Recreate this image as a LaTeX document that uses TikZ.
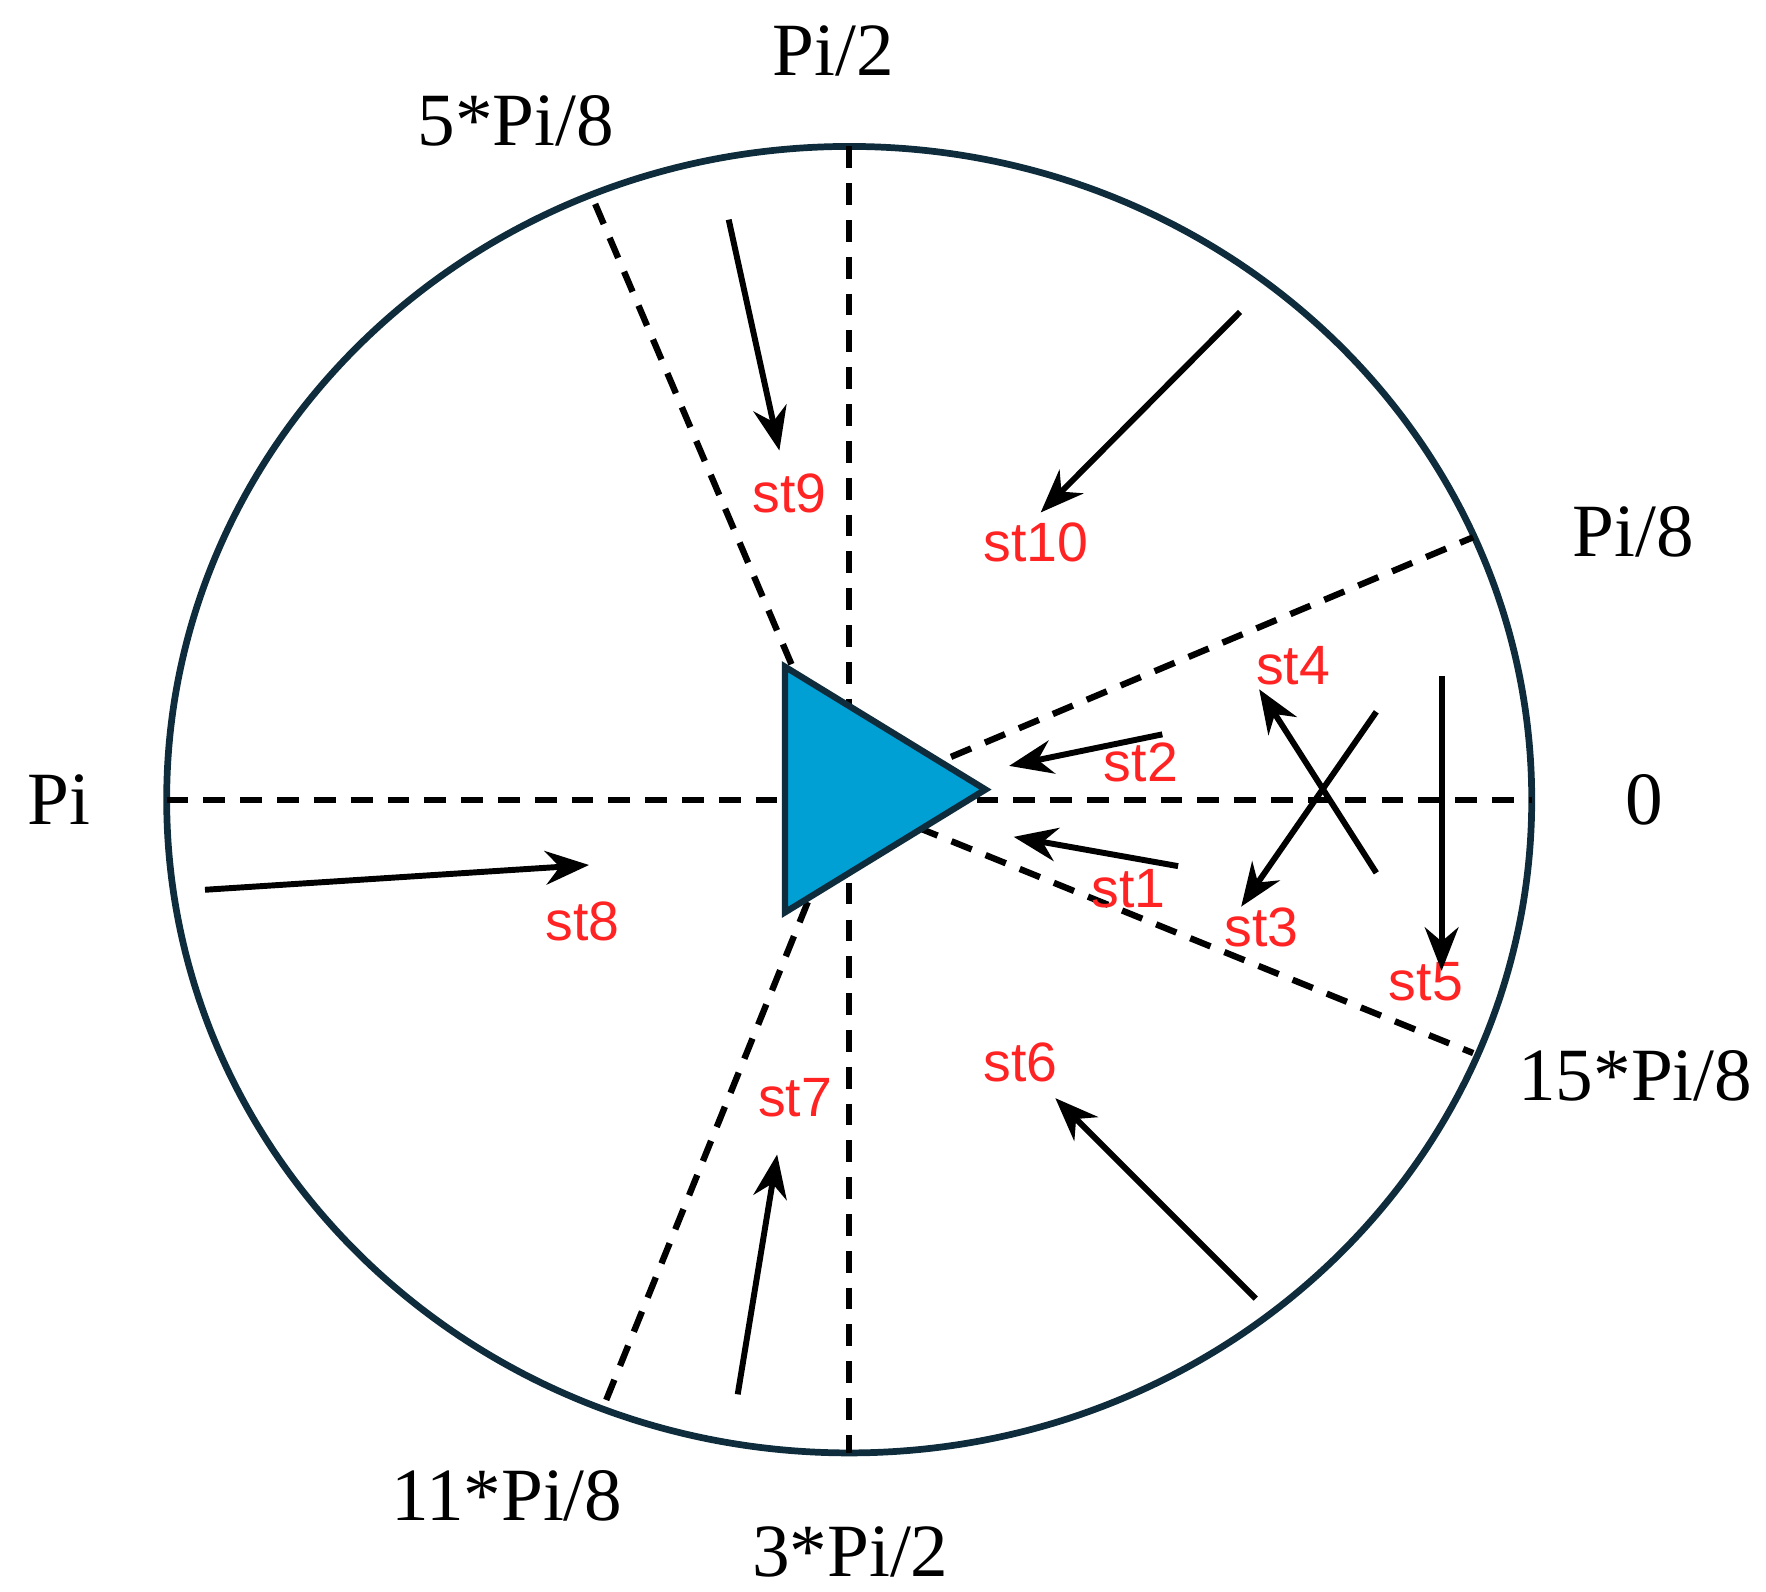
\documentclass[tikz,border=0pt]{standalone}
\usepackage{fontspec}
\setmainfont{Liberation Serif}
\newfontfamily\stfont{Liberation Sans}
\usetikzlibrary{arrows.meta}
\definecolor{rimblue}{RGB}{14,44,60}
\definecolor{beaconblue}{RGB}{0,160,213}
\definecolor{stred}{RGB}{255,35,35}
\tikzset{
  >={Stealth[length=11pt,width=8.5pt]},
  rim/.style={draw=rimblue, line width=1.7pt},
  sector/.style={line width=1.6pt, dash pattern=on 5.5pt off 3.8pt},
  heading/.style={->, line width=1.5pt},
  beacon/.style={fill=beaconblue, draw=rimblue, line width=1.6pt, line join=miter},
  stlabel/.style={text=stred, font=\stfont\fontsize{14}{16}\selectfont, inner sep=0pt},
  anglabel/.style={font=\fontsize{19}{22}\selectfont, inner sep=0pt},
}

\begin{document}
\begin{tikzpicture}
      \useasboundingbox (-7.54,-7.03) rectangle (8.14,7.10);

      \coordinate (o) at (0,0);
      \draw[rim] (o) ellipse (6.06 and 5.80);

      \draw[sector] (-6.06,0) -- (6.06,0);
      \draw[sector] (0,5.80) -- (0,-5.80);
      \draw[sector] (o) -- (5.54,2.33);
      \draw[sector] (o) -- (5.54,-2.25);
      \draw[sector] (o) -- (-2.29,5.37);
      \draw[sector] (o) -- (-2.19,-5.41);

      \coordinate (tl) at (-0.57,1.18);
      \coordinate (bl) at (-0.57,-1.00);
      \coordinate (tip) at (1.21,0.09);
      \draw[beacon] (tl) -- (tip) -- (bl) -- cycle;

      \node[anglabel] (n2)   at (-0.14,6.65)  {Pi/2};
      \node[anglabel] (n58)  at (-2.96,6.03)  {5*Pi/8};
      \node[anglabel] (n8)   at (6.96,2.38)   {Pi/8};
      \node[anglabel] (npi)  at (-7.02,0)     {Pi};
      \node[anglabel] (n0)   at (7.06,0)      {0};
      \node[anglabel] (n158) at (6.98,-2.45)  {15*Pi/8};
      \node[anglabel] (n118) at (-3.04,-6.18) {11*Pi/8};
      \node[anglabel] (n32)  at (0.01,-6.68)  {3*Pi/2};

      \node[stlabel] (st1)  at (2.48,-0.79) {st1};
      \node[stlabel] (st2)  at (2.59,0.33)  {st2};
      \node[stlabel] (st3)  at (3.66,-1.13) {st3};
      \node[stlabel] (st4)  at (3.94,1.19)  {st4};
      \node[stlabel] (st5)  at (5.12,-1.62) {st5};
      \node[stlabel] (st6)  at (1.52,-2.33) {st6};
      \node[stlabel] (st7)  at (-0.48,-2.65) {st7};
      \node[stlabel] (st8)  at (-2.37,-1.08) {st8};
      \node[stlabel] (st9)  at (-0.53,2.72)  {st9};
      \node[stlabel] (st10) at (1.66,2.28)   {st10};

      \coordinate (s1a) at (2.92,-0.59);  \coordinate (s1b) at (1.46,-0.33);
      \coordinate (s2a) at (2.78,0.58);   \coordinate (s2b) at (1.42,0.30);
      \coordinate (s3a) at (4.68,0.78);   \coordinate (s3b) at (3.48,-0.95);
      \coordinate (s4a) at (4.68,-0.65);  \coordinate (s4b) at (3.64,0.98);
      \coordinate (s5a) at (5.26,1.10);   \coordinate (s5b) at (5.26,-1.52);
      \coordinate (s6a) at (3.61,-4.43);  \coordinate (s6b) at (1.83,-2.65);
      \coordinate (s7a) at (-0.99,-5.28); \coordinate (s7b) at (-0.64,-3.15);
      \coordinate (s8a) at (-5.72,-0.80); \coordinate (s8b) at (-2.31,-0.58);
      \coordinate (s9a) at (-1.07,5.15);  \coordinate (s9b) at (-0.62,3.10);
      \coordinate (s10a) at (3.47,4.33);  \coordinate (s10b) at (1.70,2.55);

      \draw[heading] (s1a) -- (s1b);
      \draw[heading] (s2a) -- (s2b);
      \draw[heading] (s3a) -- (s3b);
      \draw[heading] (s4a) -- (s4b);
      \draw[heading] (s5a) -- (s5b);
      \draw[heading] (s6a) -- (s6b);
      \draw[heading] (s7a) -- (s7b);
      \draw[heading] (s8a) -- (s8b);
      \draw[heading] (s9a) -- (s9b);
      \draw[heading] (s10a) -- (s10b);
\end{tikzpicture}
\end{document}
